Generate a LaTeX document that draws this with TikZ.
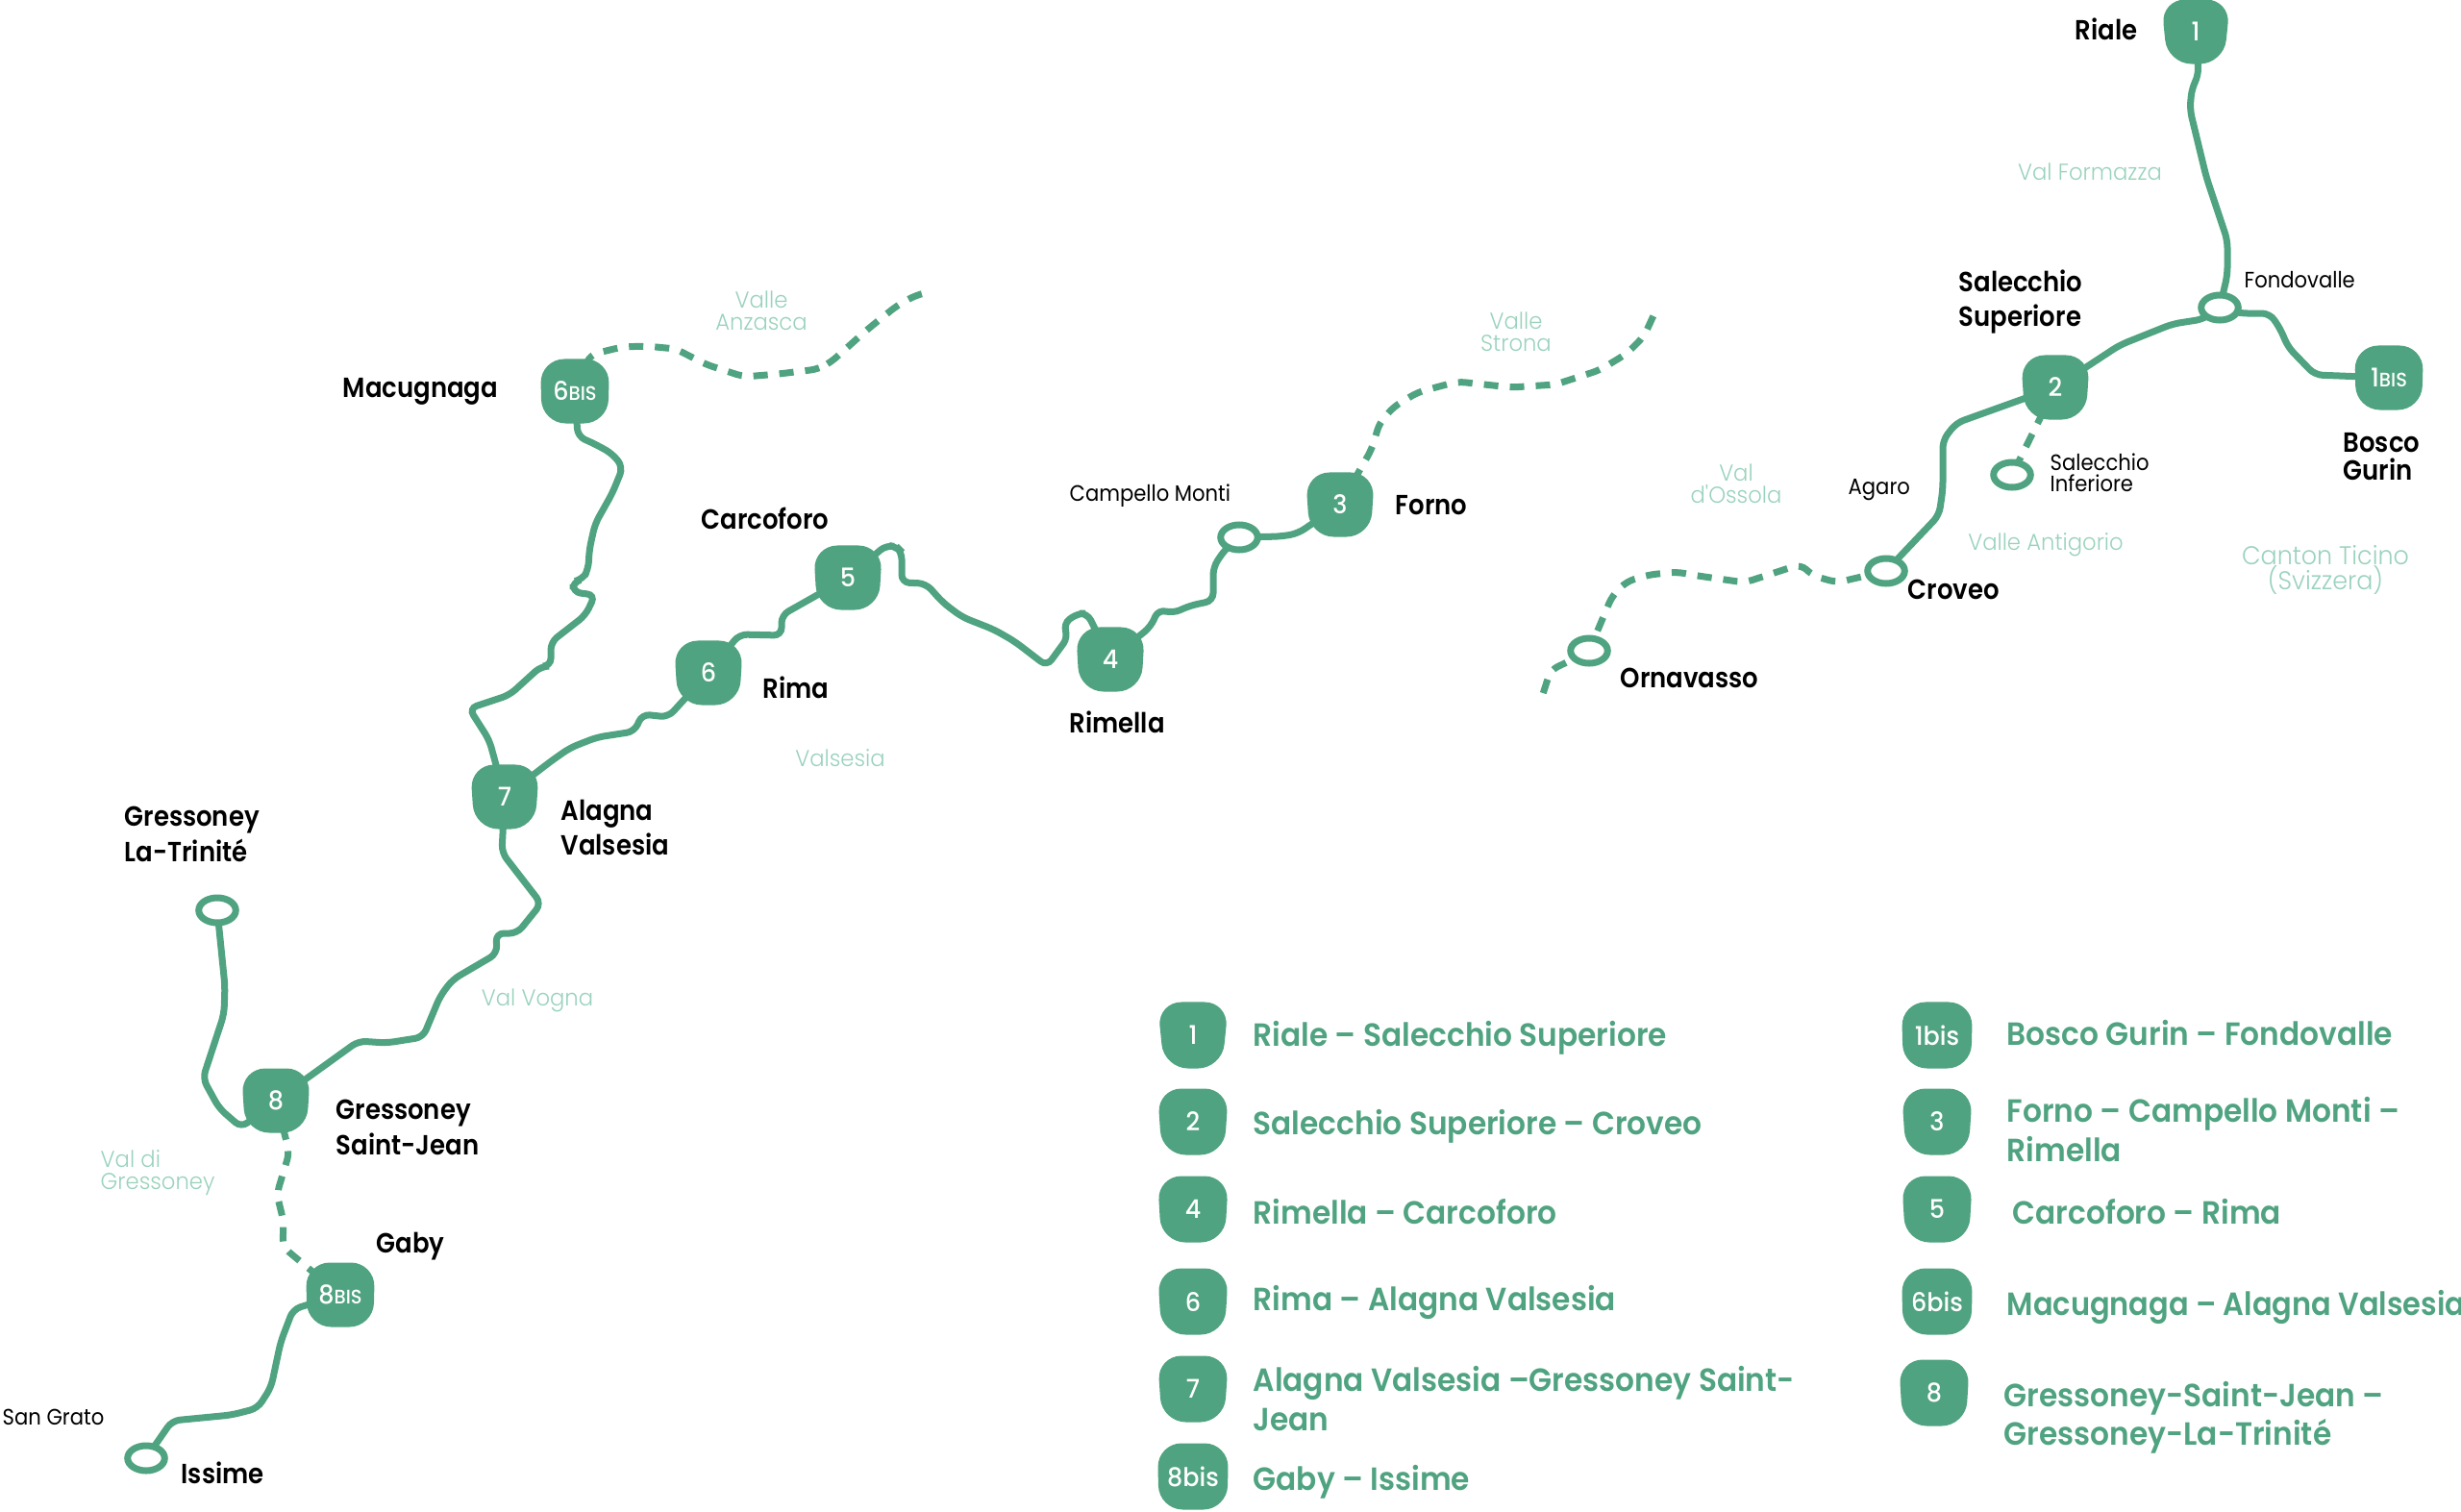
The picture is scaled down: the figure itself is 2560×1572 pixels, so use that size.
\documentclass[tikz,border=0pt]{standalone}
\usepackage{fontspec}
\setmainfont{Poppins}[FakeStretch=0.91]
\newfontfamily\townfont{Poppins SemiBold}[FakeStretch=0.9]
\newfontfamily\legendfont{Poppins SemiBold}[FakeStretch=0.935]
\newfontfamily\stagefont{Poppins Medium}[FakeStretch=0.95]
\newfontfamily\lightfont{Poppins Light}[FakeStretch=0.95]
\usetikzlibrary{shapes.geometric,backgrounds}
\definecolor{routegreen}{HTML}{50A381}
\definecolor{valleygreen}{HTML}{9AD2BC}
\tikzset{
  stage/.style={trapezium,trapezium stretches=true,trapezium angle=87,shape border rotate=180,
    rounded corners=0.25cm,fill=routegreen,text=white,inner sep=0pt,
    minimum width=0.72cm,minimum height=0.67cm,font=\stagefont\fontsize{7.6}{9}\selectfont},
  legendstage/.style={stage,minimum width=0.74cm,minimum height=0.69cm},
  halt/.style={ellipse,draw=routegreen,line width=0.07cm,fill=white,inner sep=0pt,
    minimum width=0.385cm,minimum height=0.26cm},
  route/.style={draw=routegreen,line width=0.07cm,rounded corners=0.08cm},
  dashedroute/.style={route,dash pattern=on 0.15cm off 0.12cm},
  town/.style={anchor=west,align=left,inner sep=0pt,font=\townfont\fontsize{8.2}{10.4}\selectfont},
  village/.style={anchor=west,align=left,inner sep=0pt,font=\fontsize{6.6}{6.4}\selectfont},
  valley/.style={align=center,inner sep=0pt,text=valleygreen,font=\lightfont\fontsize{6.8}{6.4}\selectfont},
  legendtext/.style={anchor=west,align=left,inner sep=0pt,text=routegreen,
    font=\legendfont\fontsize{9.5}{11.5}\selectfont},
}
\newcommand{\bis}{\fontsize{5.8}{6}\selectfont BIS}
\begin{document}
\begin{tikzpicture}[x=0.01cm,y=-0.01cm]
\useasboundingbox (0,0) rectangle (2560,1572);
% stages on the map
\node (st1) [stage] at (2284,33) {1};
\node (st2) [stage] at (2138,403) {2};
\node (st1b) [stage] at (2485,393) {1\bis};
\node (st3) [stage] at (1394,525) {3};
\node (st4) [stage] at (1155,686) {4};
\node (st5) [stage] at (882,601) {5};
\node (st6) [stage] at (737,700) {6};
\node (st6b) [stage] at (598,407) {6\bis};
\node (st7) [stage] at (525,829) {7};
\node (st8) [stage] at (287,1145) {8};
\node (st8b) [stage] at (354,1347) {8\bis};
% places without a number
\node (fondovalle) [halt] at (2309,320) {};
\node (inferiore) [halt] at (2093,494) {};
\node (croveo) [halt] at (1962,594) {};
\node (ornavasso) [halt] at (1653,677) {};
\node (campello) [halt] at (1289,559) {};
\node (trinite) [halt] at (226,947) {};
\node (issime) [halt] at (152,1517) {};
\coordinate (anzascaend) at (970,303);
\coordinate (stronaend) at (1722,324);
\coordinate (ossolaend) at (1604,725);
% routes
\begin{scope}[on background layer]
\draw [route] (st1.center) -- (2287,78) -- (2280,92) -- (2278,114) -- (2295,184) -- (2317,250) -- (2317,286) -- (fondovalle.center);
\draw [route] (fondovalle.center) -- (2292,332) -- (2260,337) -- (2205,359) -- (st2.center);
\draw [route] (fondovalle.center) -- (2330,326) -- (2361,326) -- (2372,342) -- (2380,361) -- (2408,390) -- (st1b.center);
\draw [route] (st2.center) -- (2035,440) -- (2021,458) -- (2021,509) -- (2017,536) -- (croveo.center);
\draw [route] (st3.center) -- (1350,555) -- (1333,558) -- (campello.center);
\draw [route] (campello.center) -- (1274,572) -- (1262,590) -- (1262,625) -- (1238,630) -- (1220,638) -- (1205,634) -- (1197,652) -- (st4.center);
\draw [route] (st4.center) -- (1131,638) -- (1121,638) -- (1106,649) -- (1111,663) -- (1089,693) -- (1055,667) -- (1034,655) -- (1001,642) -- (981,627) -- (963,607) -- (938,606) -- (938,574) -- (933,569) -- (922,567) -- (st5.center);
\draw [route] (st5.center) -- (813,640) -- (813,661) -- (769,660) -- (st6.center);
\draw [route] (st6.center) -- (695,746) -- (668,743) -- (660,761) -- (621,767) -- (593,778) -- (573,792) -- (st7.center);
\draw [route] (st6b.center) -- (601,454) -- (619,462) -- (637,472) -- (648,486) -- (637,513) -- (619,545) -- (613,572) -- (612,592) -- (606,603) -- (596,605) -- (596,616) -- (619,619) -- (609,640) -- (573,668) -- (573,693) -- (563,693) -- (530,723) -- (488,737) -- (509,770) -- (st7.center);
\draw [route] (st7.center) -- (522,887) -- (563,940) -- (538,971) -- (516,971) -- (517,992) -- (471,1019) -- (458,1036) -- (440,1079) -- (402,1085) -- (373,1083) -- (st8.center);
\draw [route] (trinite.center) -- (234,1026) -- (233,1055) -- (211,1122) -- (228,1153) -- (251,1173) -- (st8.center);
\draw [route] (st8b.center) -- (305,1362) -- (292,1396) -- (282,1443) -- (268,1465) -- (241,1472) -- (179,1478) -- (issime.center);
\draw [dashedroute] (st2.center) -- (inferiore.center);
\draw [dashedroute] (st8.center) -- (301,1199) -- (288,1242) -- (295,1271) -- (294,1297) -- (st8b.center);
\draw [dashedroute] (st6b.center) -- (614,369) -- (647,361) -- (672,360) -- (703,363) -- (734,379) -- (774,392) -- (810,389) -- (851,384) -- (864,377) -- (902,343) -- (933,318) -- (953,307) -- (anzascaend);
\draw [dashedroute] (st3.center) -- (1427,467) -- (1435,440) -- (1450,423) -- (1475,408) -- (1516,397) -- (1572,403) -- (1618,400) -- (1664,385) -- (1692,368) -- (1710,350) -- (stronaend);
\draw [dashedroute] (croveo.center) -- (1911,606) -- (1886,599) -- (1873,587) -- (1815,606) -- (1766,599) -- (1744,595) -- (1715,598) -- (1692,605) -- (1677,620) -- (ornavasso.center);
\draw [dashedroute] (ornavasso.center) -- (1634,687) -- (1613,697) -- (ossolaend);
\end{scope}
% names of the towns
\node (lriale) [town] at (2158,30) {Riale};
\node (lsuperiore) [town] at (2037,314) {Salecchio\\Superiore};
\node (lbosco) [town,font=\townfont\fontsize{8.2}{8}\selectfont] at (2437,475) {Bosco\\Gurin};
\node (lcroveo) [town] at (1984,613) {Croveo};
\node (lornavasso) [town] at (1685,705) {Ornavasso};
\node (lmacugnaga) [town] at (356,407) {Macugnaga};
\node (lcarcoforo) [town] at (729,539) {Carcoforo};
\node (lrima) [town] at (793,715) {Rima};
\node (lalagna) [town] at (583,861) {Alagna\\Valsesia};
\node (lforno) [town] at (1451,526) {Forno};
\node (lrimella) [town] at (1112,751) {Rimella};
\node (ltrinite) [town] at (129,868) {Gressoney\\La-Trinité};
\node (lsaintjean) [town] at (349,1173) {Gressoney\\Saint-Jean};
\node (lgaby) [town] at (391,1297) {Gaby};
\node (lissime) [town] at (188,1532) {Issime};
\node (lfondovalle) [village] at (2334,291) {Fondovalle};
\node (linferiore) [village] at (2132,492) {Salecchio\\Inferiore};
\node (lagaro) [village] at (1922,510) {Agaro};
\node (lcampello) [village] at (1112,516) {Campello Monti};
\node (lgrato) [village] at (2,1474) {San Grato};
% valleys
\node (vformazza) [valley] at (2174,179) {Val Formazza};
\node (vossola) [valley] at (1806,503) {Val\\d'Ossola};
\node (vantigorio) [valley] at (2128,567) {Valle Antigorio};
\node (vticino) [valley,font=\lightfont\fontsize{7.6}{7.4}\selectfont] at (2419,593) {Canton Ticino\\(Svizzera)};
\node (vanzasca) [valley] at (792,323) {Valle\\Anzasca};
\node (vstrona) [valley] at (1577,345) {Valle\\Strona};
\node (vvalsesia) [valley] at (874,789) {Valsesia};
\node (vvogna) [valley] at (559,1041) {Val Vogna};
\node (vgressoney) [valley,anchor=west,align=left] at (104,1220) {Val di\\Gressoney};
% legend
\node (leg1) [legendstage] at (1241,1077) {1};
\node (leg2) [legendstage] at (1241,1167) {2};
\node (leg4) [legendstage] at (1241,1258) {4};
\node (leg6) [legendstage] at (1241,1354) {6};
\node (leg7) [legendstage] at (1241,1445) {7};
\node (leg8b) [legendstage] at (1241,1536) {8bis};
\node (leg1b) [legendstage] at (2015,1077) {1bis};
\node (leg3) [legendstage] at (2015,1167) {3};
\node (leg5) [legendstage] at (2015,1258) {5};
\node (leg6b) [legendstage] at (2015,1354) {6bis};
\node (leg8) [legendstage] at (2012,1449) {8};
\node (txt1) [legendtext] at (1303,1080) {Riale – Salecchio Superiore};
\node (txt2) [legendtext] at (1303,1172) {Salecchio Superiore – Croveo};
\node (txt4) [legendtext] at (1303,1261) {Rimella – Carcoforo};
\node (txt6) [legendtext] at (1303,1355) {Rima – Alagna Valsesia};
\node (txt7) [legendtext] at (1303,1455) {Alagna Valsesia –Gressoney Saint-\\Jean};
\node (txt8b) [legendtext] at (1303,1542) {Gaby – Issime};
\node (txt1b) [legendtext] at (2087,1075) {Bosco Gurin – Fondovalle};
\node (txt3) [legendtext] at (2087,1175) {Forno – Campello Monti –\\Rimella};
\node (txt5) [legendtext] at (2093,1261) {Carcoforo – Rima};
\node (txt6b) [legendtext,xscale=0.975,transform shape] at (2087,1360) {Macugnaga – Alagna Valsesia};
\node (txt8) [legendtext] at (2084,1475) {Gressoney-Saint-Jean –\\Gressoney-La-Trinité};
\end{tikzpicture}
\end{document}
